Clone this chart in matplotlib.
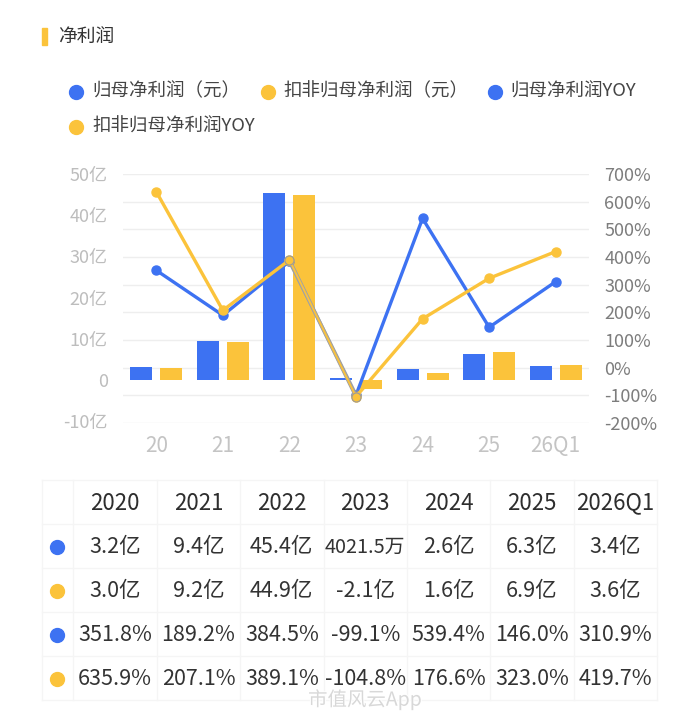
import numpy as np
import matplotlib.pyplot as plt
import matplotlib.patheffects as pe
from matplotlib.patches import Rectangle

plt.rcParams['font.family'] = ['Noto Sans CJK SC', 'DejaVu Sans']

# data: amounts in 亿元, growth in %
years = ['2020', '2021', '2022', '2023', '2024', '2025', '2026Q1']
short_years = ['20', '21', '22', '23', '24', '25', '26Q1']
net_profit = [3.2, 9.4, 45.4, 0.40215, 2.6, 6.3, 3.4]
deducted_profit = [3.0, 9.2, 44.9, -2.1, 1.6, 6.9, 3.6]
net_yoy = [351.8, 189.2, 384.5, -99.1, 539.4, 146.0, 310.9]
deducted_yoy = [635.9, 207.1, 389.1, -104.8, 176.6, 323.0, 419.7]
legend_names = ['归母净利润（元）', '扣非归母净利润（元）', '归母净利润YOY', '扣非归母净利润YOY']
amount_ticks = [-10, 0, 10, 20, 30, 40, 50]
pct_ticks = [-200, -100, 0, 100, 200, 300, 400, 500, 600, 700]

BLUE = '#3d72f2'
YELLOW = '#fbc33b'

W, H = 700, 716
fig = plt.figure(figsize=(W / 100, H / 100), dpi=100)


def px_rect(x0, y0, x1, y1):
    return [x0 / W, 1 - y1 / H, (x1 - x0) / W, (y1 - y0) / H]


def fmt_amount(v):
    if abs(v) < 1:
        return f'{v * 10000:.1f}万'
    return f'{v:.1f}亿'


x = np.arange(len(years))

# chart: grid + right axis, bars on left axis, lines on top
ax_grid = fig.add_axes(px_rect(123, 174, 589, 423))
ax_bar = ax_grid.twinx()
ax_line = ax_grid.twinx()

ax_grid.set_xlim(-0.5, len(years) - 0.5)
ax_grid.set_ylim(-200, 700)
ax_grid.yaxis.tick_right()
ax_grid.set_yticks(pct_ticks)
ax_grid.set_yticklabels([f'{t}%' for t in pct_ticks])
ax_grid.tick_params(axis='y', length=0, pad=11, labelsize=13, labelcolor='#7d7d7d')
ax_grid.set_xticks(x)
ax_grid.set_xticklabels(short_years)
ax_grid.tick_params(axis='x', length=0, pad=9, labelsize=15, labelcolor='#c4c4c4')
for t in pct_ticks:
    ax_grid.axhline(t, color='#eeeeee', lw=1, zorder=0)

ax_bar.set_ylim(-10.44, 50)
ax_bar.yaxis.tick_left()
ax_bar.set_yticks(amount_ticks)
ax_bar.set_yticklabels(['0' if t == 0 else f'{t}亿' for t in amount_ticks])
ax_bar.tick_params(axis='y', length=0, pad=11, labelsize=13, labelcolor='#bdbdbd')
ax_bar.bar(x - 0.225, net_profit, 0.33, color=BLUE)
ax_bar.bar(x + 0.225, deducted_profit, 0.33, color=YELLOW)

ax_line.set_ylim(ax_grid.get_ylim())
ax_line.axis('off')


def draw_yoy(vals, color, seg=2):
    vals = np.array(vals)
    ax_line.plot(x[:seg + 1], vals[:seg + 1], color=color, lw=2.4, solid_capstyle='round')
    ax_line.plot(x[seg + 1:], vals[seg + 1:], color=color, lw=2.4, solid_capstyle='round')
    ax_line.plot(x[seg:seg + 2], vals[seg:seg + 2], color=color, lw=1.3,
                 path_effects=[pe.Stroke(linewidth=2.6, foreground='#a3a3a3'), pe.Normal()])
    ax_line.plot(x, vals, 'o', color=color, ms=6.5)
    ax_line.plot(x[seg:seg + 2], vals[seg:seg + 2], 'o', color=color, ms=6.5,
                 mec='#9a9a9a', mew=0.8)


draw_yoy(net_yoy, BLUE)
draw_yoy(deducted_yoy, YELLOW)

for a in (ax_grid, ax_bar, ax_line):
    for s in a.spines.values():
        s.set_visible(False)

# overlay in pixel coordinates: header, legend, table
ax_o = fig.add_axes([0, 0, 1, 1])
ax_o.set_xlim(0, W)
ax_o.set_ylim(H, 0)
ax_o.axis('off')

ax_o.add_patch(Rectangle((41.7, 28.3), 5, 16.7, color=YELLOW))
ax_o.text(58, 36.5, '净利润', fontsize=13.5, va='center', color='#333333', weight='medium')

legend_pos = [(76, 91.5), (267.5, 91.5), (494.5, 91.5), (76, 127)]
legend_colors = [BLUE, YELLOW, BLUE, YELLOW]
for (mx, my), c, name in zip(legend_pos, legend_colors, legend_names):
    ax_o.plot(mx, my, 'o', ms=10, color=c)
    ax_o.text(mx + 16, my, name, fontsize=13.3, va='center', color='#444444')

# table
col_w = 83.4
col_edges = [41.7, 73.3] + [73.3 + col_w * (i + 1) for i in range(len(years))]
row_h = 44
row_edges = [480 + row_h * i for i in range(6)]
for cx in col_edges:
    ax_o.plot([cx, cx], [row_edges[0], row_edges[-1]], color='#f5f5f5', lw=1)
for ry in row_edges:
    ax_o.plot([col_edges[0], col_edges[-1]], [ry, ry], color='#f5f5f5', lw=1)

col_centers = [73.3 + col_w * (i + 0.5) for i in range(len(years))]
for cx, yr in zip(col_centers, years):
    ax_o.text(cx, row_edges[0] + row_h / 2 + 1, yr, fontsize=16, ha='center', va='center',
              color='#2e2e2e', weight='medium')

table_rows = [
    [fmt_amount(v) for v in net_profit],
    [fmt_amount(v) for v in deducted_profit],
    [f'{v:.1f}%' for v in net_yoy],
    [f'{v:.1f}%' for v in deducted_yoy],
]
for r, (cells, c) in enumerate(zip(table_rows, legend_colors)):
    cy = row_edges[r + 1] + row_h / 2 + 1
    ax_o.plot(57.3, cy, 'o', ms=10, color=c)
    for cx, txt in zip(col_centers, cells):
        # the 万 cell is squeezed a bit so it stays inside its column
        size = 14.3 if '万' in txt else 15.5
        ax_o.text(cx, cy, txt, fontsize=size, ha='center', va='center', color='#333333')

ax_o.text(365, 700, '市值风云App', fontsize=14, ha='center', va='center', color='#d8d8d8',
          path_effects=[pe.withStroke(linewidth=1.5, foreground='white')])

fig.savefig('out.png', dpi=100, facecolor='white')
